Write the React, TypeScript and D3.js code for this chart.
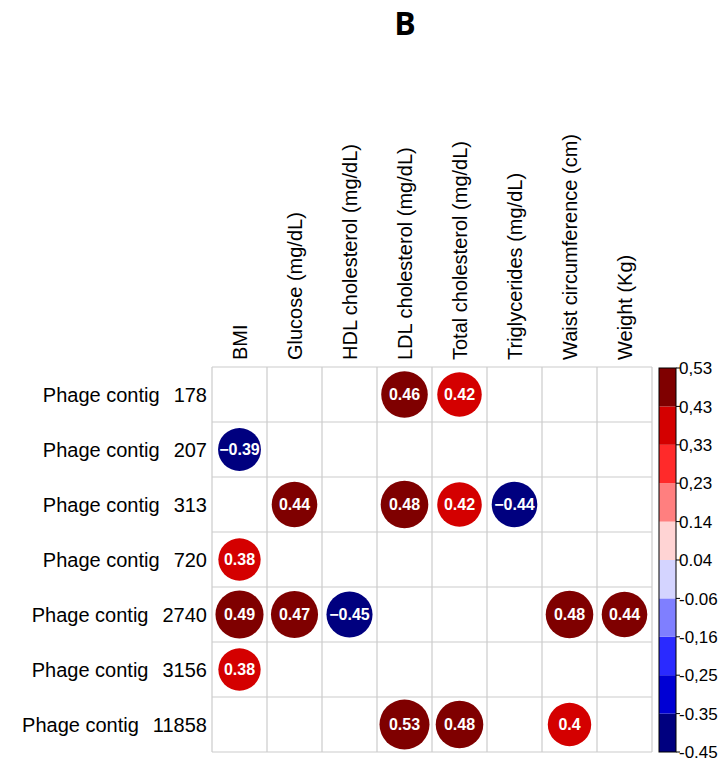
import React from "react";
import * as d3 from "d3";

const rowIds = ["178", "207", "313", "720", "2740", "3156", "11858"];
const rowPrefix = "Phage contig";
const columns = [
  "BMI",
  "Glucose (mg/dL)",
  "HDL cholesterol (mg/dL)",
  "LDL cholesterol (mg/dL)",
  "Total cholesterol (mg/dL)",
  "Triglycerides (mg/dL)",
  "Waist circumference (cm)",
  "Weight (Kg)",
];
const r178 = [null, null, null, 0.46, 0.42, null, null, null];
const r207 = [-0.39, null, null, null, null, null, null, null];
const r313 = [null, 0.44, null, 0.48, 0.42, -0.44, null, null];
const r720 = [0.38, null, null, null, null, null, null, null];
const r2740 = [0.49, 0.47, -0.45, null, null, null, 0.48, 0.44];
const r3156 = [0.38, null, null, null, null, null, null, null];
const r11858 = [null, null, null, 0.53, 0.48, null, 0.4, null];
const matrix: (number | null)[][] = [r178, r207, r313, r720, r2740, r3156, r11858];

const binColors = [
  "#00007F", "#0000D4", "#2A2AFF", "#7F7FFF", "#D4D4FF",
  "#FFD4D4", "#FF7F7F", "#FF2A2A", "#D40000", "#7F0000",
];
const legendLabels = ["-0.45", "-0.35", "-0,25", "-0,16", "-0.06", "0.04", "0.14", "0,23", "0,33", "0,43", "0,53"];
const limMin = -0.45;
const limMax = 0.53;

function fmt(v: number) {
  const s = String(v);
  return v < 0 ? "\u2212" + s.slice(1) : s;
}

export default function App() {
  const W = 721, H = 762;
  const gx0 = 212, gy0 = 367, cell = 55;
  const x = d3.scaleBand<number>().domain(d3.range(columns.length)).range([gx0, gx0 + cell * columns.length]);
  const y = d3.scaleBand<number>().domain(d3.range(rowIds.length)).range([gy0, gy0 + cell * rowIds.length]);
  const color = d3.scaleQuantize<string>().domain([limMin, limMax]).range(binColors);
  const rad = d3.scaleSqrt().domain([0, 0.53]).range([0, 25]);

  const lbx0 = 659, lbx1 = 676, lby0 = 368, lby1 = 752;
  const ly = d3.scaleLinear().domain([0, binColors.length]).range([lby1, lby0]);
  const font = "'Liberation Sans', Arial, sans-serif";
  const gridColor = "#CCCCCC";

  return (
    <div style={{ position: "absolute", left: 0, top: 0 }}>
      <svg width={W} height={H} style={{ display: "block", background: "#fff" }}>
        <text x={405} y={35} textAnchor="middle" fontFamily="'Open Sans', 'DejaVu Sans', sans-serif" fontWeight="bold" fontSize={32} fill="#000">B</text>

        {/* column labels */}
        {columns.map((c, i) => (
          <text key={c} transform={`translate(${x(i)! + cell / 2},360) rotate(-90)`} dy="0.36em" fontFamily={font} fontSize={20} fill="#000">{c}</text>
        ))}

        {/* row labels */}
        {rowIds.map((id, j) => (
          <text key={id} x={207} y={y(j)! + cell / 2} dy="0.36em" textAnchor="end" fontFamily={font} fontSize={20} fill="#000">
            <tspan>{rowPrefix}</tspan>
            <tspan dx={14}>{id}</tspan>
          </text>
        ))}

        {/* grid */}
        {d3.range(columns.length + 1).map((i) => (
          <line key={"v" + i} x1={gx0 + i * cell} x2={gx0 + i * cell} y1={gy0} y2={gy0 + cell * rowIds.length} stroke={gridColor} strokeWidth={1.2} />
        ))}
        {d3.range(rowIds.length + 1).map((j) => (
          <line key={"h" + j} y1={gy0 + j * cell} y2={gy0 + j * cell} x1={gx0} x2={gx0 + cell * columns.length} stroke={gridColor} strokeWidth={1.2} />
        ))}

        {/* circles */}
        {matrix.map((row, j) =>
          row.map((v, i) =>
            v === null ? null : (
              <g key={`${j}-${i}`}>
                <circle cx={x(i)! + cell / 2} cy={y(j)! + cell / 2} r={rad(Math.abs(v))} fill={color(v)} />
                <text x={x(i)! + cell / 2} y={y(j)! + cell / 2} dy="0.36em" textAnchor="middle" fontFamily={font} fontWeight="bold" fontSize={16} fill="#fff">{fmt(v)}</text>
              </g>
            )
          )
        )}

        {/* colour legend */}
        {binColors.map((c, k) => (
          <rect key={c} x={lbx0} y={ly(k + 1)} width={lbx1 - lbx0} height={ly(k) - ly(k + 1)} fill={c} />
        ))}
        <rect x={lbx0} y={lby0} width={lbx1 - lbx0} height={lby1 - lby0} fill="none" stroke="#000" strokeWidth={1} />
        {legendLabels.map((t, k) => (
          <g key={t}>
            <line x1={lbx1} x2={lbx1 + 4} y1={ly(k)} y2={ly(k)} stroke="#000" strokeWidth={1} />
            <text x={lbx1 + 3} y={ly(k)} dy="0.36em" fontFamily={font} fontSize={17} fill="#000">{t}</text>
          </g>
        ))}
      </svg>
    </div>
  );
}
